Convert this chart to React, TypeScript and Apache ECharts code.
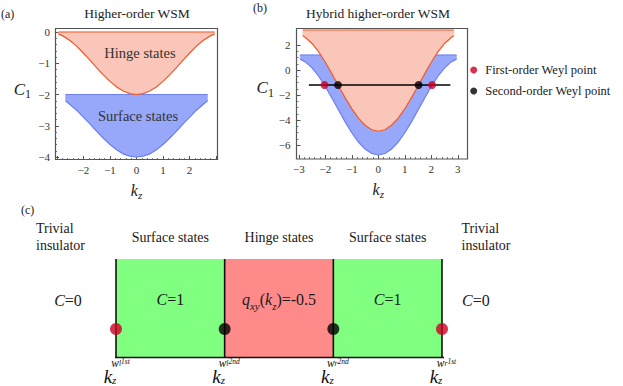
import React, { useEffect, useRef } from "react";
import * as echarts from "echarts";

const SERIF = "Liberation Serif";

// ---------- Panel (a): Higher-order WSM ----------
const kzHingeA = [-2.95, -2.75, -2.5, -2.25, -2, -1.75, -1.5, -1.25, -1, -0.75, -0.5, -0.25, 0, 0.25, 0.5, 0.75, 1, 1.25, 1.5, 1.75, 2, 2.25, 2.5, 2.75, 2.95];
const hingeLowerA = [-0.06, -0.14, -0.28, -0.46, -0.68, -0.91, -1.15, -1.37, -1.58, -1.76, -1.89, -1.97, -2.0, -1.97, -1.89, -1.76, -1.58, -1.37, -1.15, -0.91, -0.68, -0.46, -0.28, -0.14, -0.06];
const hingeTopA = 0;
const kzSurfA = [-2.68, -2.5, -2.25, -2, -1.75, -1.5, -1.25, -1, -0.75, -0.5, -0.25, 0, 0.25, 0.5, 0.75, 1, 1.25, 1.5, 1.75, 2, 2.25, 2.5, 2.68];
const surfLowerA = [-2.2, -2.33, -2.51, -2.73, -2.95, -3.18, -3.4, -3.6, -3.77, -3.9, -3.97, -4.0, -3.97, -3.9, -3.77, -3.6, -3.4, -3.18, -2.95, -2.73, -2.51, -2.33, -2.2];
const surfTopA = -2;

// ---------- Panel (b): Hybrid higher-order WSM ----------
const kzHingeB = [-2.85, -2.75, -2.5, -2.25, -2, -1.75, -1.5, -1.25, -1, -0.75, -0.5, -0.25, 0, 0.25, 0.5, 0.75, 1, 1.25, 1.5, 1.75, 2, 2.25, 2.5, 2.75, 2.85];
const hingeLowerB = [2.74, 2.6, 2.12, 1.45, 0.62, -0.31, -1.28, -2.23, -3.11, -3.85, -4.42, -4.78, -4.9, -4.78, -4.42, -3.85, -3.11, -2.23, -1.28, -0.31, 0.62, 1.45, 2.12, 2.6, 2.74];
const hingeTopB = 3.2;
const kzSurfB = [-2.95, -2.75, -2.5, -2.25, -2, -1.75, -1.5, -1.25, -1, -0.75, -0.5, -0.25, 0, 0.25, 0.5, 0.75, 1, 1.25, 1.5, 1.75, 2, 2.25, 2.5, 2.75, 2.95];
const surfLowerB = [0.87, 0.65, 0.17, -0.5, -1.32, -2.24, -3.2, -4.15, -5.02, -5.76, -6.33, -6.68, -6.8, -6.68, -6.33, -5.76, -5.02, -4.15, -3.2, -2.24, -1.32, -0.5, 0.17, 0.65, 0.87];
const surfTopB = 1.2;
const weylLevel = -1.2;
const weylLineX = [-2.62, 2.72];
const firstOrderKz = [-2.03, 2.03];
const secondOrderKz = [-1.52, 1.52];

// ---------- Panel (c): schematic ----------
const nodes = [0, 1, 2, 3];
const nodeKinds = ["1st", "2nd", "2nd", "1st"];
const nodeSides = ["l", "l", "r", "r"];
const nodeIsFirst = [true, false, false, true];
const regionStart = [0, 1, 2];
const regionEnd = [1, 2, 3];
const regionHeaders = ["Surface states", "Hinge states", "Surface states"];
const regionKind = ["surface", "hinge", "surface"];
const dotLevel = 0.29;
const baseLineX = [-0.3, 3.3];

const ORANGE_LINE = "#ee5a2a";
const ORANGE_FILL = "#f9c6b9";
const BLUE_LINE = "#6d80f2";
const BLUE_FILL = "#97a7fa";
const RED = "#cc0022";
const GREEN = "#80ff80";
const PINK = "#ff8a8a";
const AXIS = "#555";

const fmtTick = (v: number) => (v < 0 ? "\u2212" + Math.abs(v) : String(v));

function band(id: string, xs: number[], lower: number[], top: number, gi: number, line: string, fill: string) {
  return {
    type: "custom",
    name: id,
    xAxisIndex: gi,
    yAxisIndex: gi,
    clip: false,
    silent: true,
    z: 2,
    data: xs.map((x, i) => [x, lower[i]]),
    renderItem: (params: any, api: any) => {
      if (params.dataIndex !== 0) return null;
      const lowerPts = xs.map((x, i) => api.coord([x, lower[i]]));
      const topPts = xs.map((x) => api.coord([x, top]));
      return {
        type: "group",
        children: [
          {
            type: "polygon",
            shape: { points: [...topPts, ...lowerPts.slice().reverse()] },
            style: { fill, stroke: fill, lineWidth: 0.5 },
          },
          {
            type: "polyline",
            shape: { points: lowerPts },
            style: { stroke: line, lineWidth: 1.2, fill: "none" },
          },
          {
            type: "polyline",
            shape: { points: topPts },
            style: { stroke: line, lineWidth: 1.2, fill: "none" },
          },
        ],
      };
    },
  };
}

const tickAxisCommon = {
  type: "value",
  splitLine: { show: false },
  axisLine: { show: false, onZero: false },
  axisTick: { show: true, inside: true, length: 4, lineStyle: { color: AXIS, width: 1 } },
  minorTick: { show: true, length: 2, lineStyle: { color: AXIS, width: 0.8 } },
};

const labelStyle = { fontFamily: SERIF, fontSize: 11, color: "#333" };

const kzName = {
  name: "{k|k}{z|z}",
  nameLocation: "middle",
  nameTextStyle: {
    rich: {
      k: { fontFamily: SERIF, fontStyle: "italic", fontSize: 16, color: "#222", lineHeight: 20 },
      z: { fontFamily: SERIF, fontStyle: "italic", fontSize: 11, color: "#222", verticalAlign: "bottom", lineHeight: 20 },
    },
  },
};

const c1Rich = {
  c: { fontFamily: SERIF, fontStyle: "italic", fontSize: 17, color: "#222", lineHeight: 22 },
  s: { fontFamily: SERIF, fontSize: 12, color: "#222", verticalAlign: "bottom", lineHeight: 22 },
};

export default function App() {
  const ref = useRef<HTMLDivElement>(null);

  useEffect(() => {
    if (!ref.current) return;
    const chart = echarts.init(ref.current, undefined, { renderer: "svg" });

    const option: any = {
      animation: false,
      textStyle: { fontFamily: SERIF },
      grid: [
        { left: 57, top: 32, width: 159, height: 125 },
        { left: 298.8, top: 45, width: 159, height: 100 },
        { left: 116, top: 259, width: 326, height: 99 },
      ],
      legend: {
        data: ["First-order Weyl point", "Second-order Weyl point"],
        orient: "vertical",
        left: 465.2,
        top: 57.5,
        itemWidth: 13,
        itemHeight: 7,
        itemGap: 6,
        icon: "circle",
        selectedMode: false,
        textStyle: { fontFamily: SERIF, fontSize: 12.5, color: "#222", lineHeight: 15 },
      },
      xAxis: [
        {
          ...tickAxisCommon,
          gridIndex: 0,
          min: -3,
          max: 3,
          interval: 1,
          offset: 3,
          minorTick: { ...tickAxisCommon.minorTick, splitNumber: 5 },
          axisLabel: { ...labelStyle, margin: 4, formatter: fmtTick, showMinLabel: false, showMaxLabel: false },
          ...kzName,
          nameGap: 20,
        },
        {
          ...tickAxisCommon,
          gridIndex: 1,
          min: -3,
          max: 3,
          interval: 1,
          offset: 14,
          minorTick: { ...tickAxisCommon.minorTick, splitNumber: 5 },
          axisLabel: { ...labelStyle, margin: 4, formatter: fmtTick },
          ...kzName,
          nameGap: 20,
        },
        {
          type: "value",
          gridIndex: 2,
          min: 0,
          max: 3,
          interval: 1,
          splitLine: { show: false },
          axisLine: { show: false, onZero: false },
          axisTick: { show: false },
          axisLabel: {
            margin: 0,
            formatter: (v: number) => {
              const i = nodes.indexOf(v);
              if (i < 0) return "";
              return `{sp|}{w|w}{sb|${nodeSides[i]}}{su|${nodeKinds[i]}}\n{k|k}{z|z}{sp2|}`;
            },
            rich: {
              sp: { width: 9, lineHeight: 10 },
              w: { fontFamily: SERIF, fontStyle: "italic", fontSize: 11.5, color: "#111", lineHeight: 10, verticalAlign: "middle" },
              sb: { fontFamily: SERIF, fontStyle: "italic", fontSize: 7.5, color: "#111", lineHeight: 10, verticalAlign: "bottom" },
              su: { fontFamily: SERIF, fontStyle: "italic", fontSize: 7.5, color: "#111", lineHeight: 10, verticalAlign: "top" },
              k: { fontFamily: SERIF, fontStyle: "italic", fontSize: 19, color: "#111", lineHeight: 18 },
              z: { fontFamily: SERIF, fontStyle: "italic", fontSize: 11, color: "#111", lineHeight: 18, verticalAlign: "bottom" },
              sp2: { width: 12, lineHeight: 18 },
            },
          },
        },
      ],
      yAxis: [
        {
          ...tickAxisCommon,
          gridIndex: 0,
          min: -4,
          max: 0,
          interval: 1,
          offset: 2,
          minorTick: { ...tickAxisCommon.minorTick, splitNumber: 5 },
          axisLabel: { ...labelStyle, margin: 5, formatter: fmtTick },
          name: "{c|C}{s|1}",
          nameLocation: "middle",
          nameRotate: 0,
          nameGap: 24,
          nameTextStyle: { rich: c1Rich, padding: [0, 0, 11, 0] },
        },
        {
          ...tickAxisCommon,
          gridIndex: 1,
          min: -6,
          max: 2,
          interval: 2,
          offset: 2.3,
          minorTick: { ...tickAxisCommon.minorTick, splitNumber: 4 },
          axisLabel: { ...labelStyle, margin: 6, formatter: fmtTick },
          name: "{c|C}{s|1}",
          nameLocation: "middle",
          nameRotate: 0,
          nameGap: 21,
          nameTextStyle: { rich: c1Rich, padding: [0, 0, 15, 0] },
        },
        {
          type: "value",
          gridIndex: 2,
          min: 0,
          max: 1,
          show: false,
        },
      ],
      series: [
        band("surfA", kzSurfA, surfLowerA, surfTopA, 0, BLUE_LINE, BLUE_FILL),
        band("hingeA", kzHingeA, hingeLowerA, hingeTopA, 0, ORANGE_LINE, ORANGE_FILL),
        band("surfB", kzSurfB, surfLowerB, surfTopB, 1, BLUE_LINE, BLUE_FILL),
        band("hingeB", kzHingeB, hingeLowerB, hingeTopB, 1, ORANGE_LINE, ORANGE_FILL),
        {
          type: "line",
          name: "weyl-line",
          xAxisIndex: 1,
          yAxisIndex: 1,
          data: weylLineX.map((x) => [x, weylLevel]),
          showSymbol: false,
          lineStyle: { color: "#000", width: 1.5 },
          z: 4,
          silent: true,
        },
        {
          type: "scatter",
          name: "First-order Weyl point",
          xAxisIndex: 1,
          yAxisIndex: 1,
          data: firstOrderKz.map((x) => [x, weylLevel]),
          symbolSize: 8,
          itemStyle: { color: RED },
          z: 5,
          silent: true,
        },
        {
          type: "scatter",
          name: "Second-order Weyl point",
          xAxisIndex: 1,
          yAxisIndex: 1,
          data: secondOrderKz.map((x) => [x, weylLevel]),
          symbolSize: 8,
          itemStyle: { color: "#000" },
          z: 5,
          silent: true,
        },
        // ----- panel (c) -----
        {
          type: "custom",
          name: "regions",
          xAxisIndex: 2,
          yAxisIndex: 2,
          data: regionStart.map((s, i) => [s, regionEnd[i]]),
          z: 1,
          silent: true,
          clip: false,
          renderItem: (params: any, api: any) => {
            const i = params.dataIndex;
            const p0 = api.coord([api.value(0), 1]);
            const p1 = api.coord([api.value(1), 0]);
            const cx = (p0[0] + p1[0]) / 2;
            const innerY = api.coord([0, 0.586])[1];
            const inner =
              regionKind[i] === "hinge"
                ? "{i|q}{s|xy}{r|(}{i|k}{s|z}{r|)=-0.5}"
                : "{i|C}{r|=1}";
            return {
              type: "group",
              children: [
                {
                  type: "rect",
                  shape: { x: p0[0], y: p0[1], width: p1[0] - p0[0], height: p1[1] - p0[1] },
                  style: { fill: regionKind[i] === "hinge" ? PINK : GREEN },
                },
                {
                  type: "text",
                  x: cx,
                  y: p0[1] - 22,
                  style: {
                    text: regionHeaders[i],
                    fill: "#1a1a1a",
                    fontFamily: SERIF,
                    fontSize: 14,
                    align: "center",
                    verticalAlign: "middle",
                  },
                },
                {
                  type: "text",
                  x: cx,
                  y: innerY,
                  style: {
                    text: inner,
                    align: "center",
                    verticalAlign: "middle",
                    rich: {
                      i: { fontFamily: SERIF, fontStyle: "italic", fontSize: 16, fill: "#1a1a1a", lineHeight: 24 },
                      r: { fontFamily: SERIF, fontSize: 16, fill: "#1a1a1a", lineHeight: 24 },
                      s: { fontFamily: SERIF, fontStyle: "italic", fontSize: 11, fill: "#1a1a1a", lineHeight: 24, verticalAlign: "bottom" },
                    },
                  },
                },
              ],
            };
          },
        },
        {
          type: "custom",
          name: "node-lines",
          xAxisIndex: 2,
          yAxisIndex: 2,
          data: nodes.map((n) => [n]),
          z: 3,
          silent: true,
          clip: false,
          renderItem: (params: any, api: any) => {
            const a = api.coord([api.value(0), 0]);
            const b = api.coord([api.value(0), 1]);
            return {
              type: "line",
              shape: { x1: a[0], y1: a[1], x2: b[0], y2: b[1] },
              style: { stroke: "#111", lineWidth: 1.6 },
            };
          },
        },
        {
          type: "line",
          name: "baseline",
          xAxisIndex: 2,
          yAxisIndex: 2,
          data: baseLineX.map((x) => [x, 0]),
          showSymbol: false,
          clip: false,
          lineStyle: { color: "#111", width: 1.6 },
          z: 3,
          silent: true,
        },
        {
          type: "scatter",
          name: "c-first",
          xAxisIndex: 2,
          yAxisIndex: 2,
          data: nodes.filter((_, i) => nodeIsFirst[i]).map((n) => [n, dotLevel]),
          symbolSize: 12,
          itemStyle: { color: RED },
          z: 5,
          silent: true,
        },
        {
          type: "scatter",
          name: "c-second",
          xAxisIndex: 2,
          yAxisIndex: 2,
          data: nodes.filter((_, i) => !nodeIsFirst[i]).map((n) => [n, dotLevel]),
          symbolSize: 12,
          itemStyle: { color: "#000" },
          z: 5,
          silent: true,
        },
      ],
      graphic: [
        { type: "rect", shape: { x: 55.5, y: 28.5, width: 162, height: 131 }, style: { fill: "none", stroke: AXIS, lineWidth: 1.2 }, z: 50, silent: true },
        { type: "rect", shape: { x: 296.5, y: 28.5, width: 171, height: 130.5 }, style: { fill: "none", stroke: AXIS, lineWidth: 1.2 }, z: 50, silent: true },
        { type: "text", x: 1, y: 14, style: { text: "(a)", fontFamily: SERIF, fontSize: 12, fill: "#222", verticalAlign: "middle" } },
        { type: "text", x: 253, y: 8, style: { text: "(b)", fontFamily: SERIF, fontSize: 12, fill: "#222", verticalAlign: "middle" } },
        { type: "text", x: 21, y: 210, style: { text: "(c)", fontFamily: SERIF, fontSize: 12, fill: "#222", verticalAlign: "middle" } },
        { type: "text", x: 137, y: 13.5, style: { text: "Higher-order WSM", fontFamily: SERIF, fontSize: 13.5, fill: "#222", align: "center", verticalAlign: "middle" } },
        { type: "text", x: 378, y: 13.5, style: { text: "Hybrid higher-order WSM", fontFamily: SERIF, fontSize: 13.5, fill: "#222", align: "center", verticalAlign: "middle" } },
        { type: "text", x: 140, y: 53, z: 20, style: { text: "Hinge states", fontFamily: SERIF, fontSize: 14.5, fill: "#333", align: "center", verticalAlign: "middle" } },
        { type: "text", x: 138, y: 116, z: 20, style: { text: "Surface states", fontFamily: SERIF, fontSize: 14.5, fill: "#333", align: "center", verticalAlign: "middle" } },
        { type: "text", x: 36, y: 237, style: { text: "Trivial\ninsulator", fontFamily: SERIF, fontSize: 14, fill: "#1a1a1a", verticalAlign: "middle", lineHeight: 17 } },
        { type: "text", x: 461.5, y: 237, style: { text: "Trivial\ninsulator", fontFamily: SERIF, fontSize: 14, fill: "#1a1a1a", verticalAlign: "middle", lineHeight: 17 } },
        {
          type: "text",
          x: 68,
          y: 300,
          style: {
            text: "{i|C}{r|=0}",
            align: "center",
            verticalAlign: "middle",
            rich: {
              i: { fontFamily: SERIF, fontStyle: "italic", fontSize: 16, fill: "#1a1a1a" },
              r: { fontFamily: SERIF, fontSize: 16, fill: "#1a1a1a" },
            },
          },
        },
        {
          type: "text",
          x: 462,
          y: 300,
          style: {
            text: "{i|C}{r|=0}",
            align: "left",
            verticalAlign: "middle",
            rich: {
              i: { fontFamily: SERIF, fontStyle: "italic", fontSize: 16, fill: "#1a1a1a" },
              r: { fontFamily: SERIF, fontSize: 16, fill: "#1a1a1a" },
            },
          },
        },
      ],
    };

    chart.setOption(option);
    return () => chart.dispose();
  }, []);

  return (
    <div
      ref={ref}
      style={{ position: "fixed", left: 0, top: 0, width: 623, height: 386, background: "#fff" }}
    />
  );
}
